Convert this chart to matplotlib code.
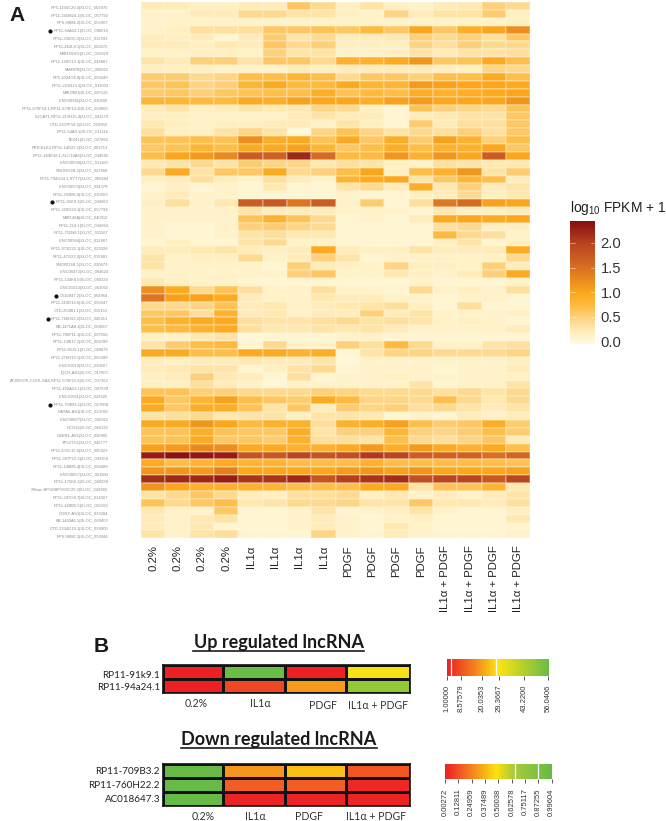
import matplotlib
matplotlib.use("Agg")
import matplotlib.pyplot as plt
import numpy as np
from matplotlib.colors import LinearSegmentedColormap, Normalize
from matplotlib.lines import Line2D

W, H = 666, 821
plt.rcParams['font.family'] = ['Liberation Sans', 'DejaVu Sans']
plt.rcParams['mathtext.fontset'] = 'custom'
plt.rcParams['mathtext.rm'] = 'Liberation Sans'
plt.rcParams['mathtext.default'] = 'rm'

gene_labels = [
"RP5-1156C20.4|XLOC_003970","RP11-245M24.1|XLOC_057792","RP6-99M1.2|XLOC_052967","RP11-94A24.1|XLOC_040519",
"RP11-230G5.2|XLOC_012393","RP11-462L8.1|XLOC_003372","MIR155HG|XLOC_031929","RP11-150O12.1|XLOC_046887",
"FAM87B|XLOC_000022","RP5-1024G6.8|XLOC_003349","RP11-221N13.3|XLOC_011003","MIR29B1|XLOC_087126",
"LINC00941|XLOC_010600","RP11-679F14.1,RP11-679F14.2|XLOC_024000","LUCAT1,RP11-213H15.4|XLOC_041179",
"CTD-2207P18.2|XLOC_010956","RP11-54A9.1|XLOC_011116","TEX41|XLOC_027866","PRICKLE2,RP11-14D22.2|XLOC_003713",
"RP11-469E18.1,SLC39A6|XLOC_034585","LINC00936|XLOC_011160","SNORD3B-2|XLOC_021968","RP11-794G24.1,SYT7|XLOC_005484",
"LINC00973|XLOC_034379","RP11-203M5.8|XLOC_010263","RP11-91K9.1|XLOC_034963","RP11-320G24.1|XLOC_057794",
"MIR146A|XLOC_040312","RP11-2L8.1|XLOC_034964","RP11-752N8.1|XLOC_011167","LINC00944|XLOC_012967",
"RP11-973D20.1|XLOC_023328","RP11-47G22.2|XLOC_015981","SNORD3B-1|XLOC_020679","LINC00473|XLOC_064624",
"RP11-143K6.5|XLOC_040324","LINC01013|XLOC_063002","C010947.2|XLOC_064964","RP11-219D15.6|XLOC_055047",
"CTD-2538I1.1|XLOC_015153","RP11-760H22.2|XLOC_046313","KB-1471A8.1|XLOC_069507","RP11-785F11.1|XLOC_007566",
"RP11-138I17.1|XLOC_008789","RP11-86J3.1|XLOC_060875","RP11-276H19.1|XLOC_050289","LINC01019|XLOC_039207",
"IQCH-AS1|XLOC_017600","AC005076.2,GOLGA6,RP11-576F21.6|XLOC_007362","RP11-420A23.1|XLOC_007539",
"LINC01021|XLOC_039325","RP11-709B3.2|XLOC_017808","GATA6-AS1|XLOC_023768","LINC00607|XLOC_030322",
"HCG11|XLOC_042130","DSER1-AS1|XLOC_030965","TP53TG1|XLOC_046777","RP11-672C15.6|XLOC_005923",
"RP11-397F15.2|XLOC_043159","RP11-148M5.4|XLOC_056489","LINC00657|XLOC_051843","RP11-175K6.1|XLOC_040294",
"XXbac-BPG6BPG55C20.2|XLOC_043965","RP11-397O8.7|XLOC_014367","RP11-420B5.5|XLOC_001365","GDNF-AS1|XLOC_033384",
"KB-1460A1.5|XLOC_069400","CTD-2334D19.1|XLOC_039905","RP6-99M1.2|XLOC_053944"]
marked_genes = [3, 25, 37, 40, 51]

conditions = ["0.2%"]*4 + ["IL1α"]*4 + ["PDGF"]*4 + ["IL1α + PDGF"]*4

heat_values = [
[.2,.2,.15,.15,.2,.2,.6,.4,.15,.3,.15,.1,.2,.25,.5,.4],
[.1,.1,.2,.2,.4,.4,.3,.3,.15,.1,.45,.2,.3,.3,.55,.15],
[.1,.1,.1,.1,.1,.1,.1,.1,.1,.1,.1,.1,.1,.1,.1,.15],
[.1,.15,.35,.35,.35,.6,.6,.65,.6,.75,.6,1.0,.6,.9,1.0,1.2],
[.2,.15,.2,.05,.2,.55,.3,.4,.2,.2,.25,.5,.4,.5,.35,.6],
[.2,.2,.15,.25,.2,.6,.4,.5,.15,.15,.15,.45,.35,.5,.4,.4],
[.1,.1,.15,.15,.1,.5,.3,.3,.1,.1,.15,.3,.2,.3,.3,.35],
[.3,.2,.5,.5,.3,.6,.6,.4,.85,.85,.95,1.15,.6,.65,.95,.7],
[.15,.15,.15,.1,.1,.1,.2,.15,.2,.2,.2,.2,.15,.15,.45,.4],
[.55,.55,.4,.45,.7,.7,.8,.7,.4,.6,.6,.5,.7,.7,.95,.7],
[.6,.65,.45,.5,.8,.95,.75,.75,.95,.8,.8,1.1,1.05,1.0,1.0,.95],
[.55,.6,.5,.6,.65,.7,.7,.9,.65,.75,.7,.9,.85,.9,.95,1.0],
[.8,.8,.75,.75,.95,.9,1.05,1.0,1.0,.9,1.05,1.1,1.0,1.0,1.0,1.15],
[.2,.3,.15,.2,.3,.25,.25,.45,.4,.15,.05,.65,.5,.45,.4,.65],
[.15,.15,.1,.1,.1,.1,.2,.3,.2,.2,.05,.2,.25,.3,.3,.6],
[.25,.15,.1,.15,.15,.2,.2,.1,.3,.15,.05,.55,.2,.35,.35,.6],
[.35,.15,.15,.3,.45,.3,.02,.45,.65,.45,.3,.4,.35,.5,.35,.6],
[.65,.65,.7,.65,1.2,.9,.95,.65,.95,.6,.9,.55,1.05,.85,.5,.7],
[.6,.65,.8,.7,.95,.95,1.05,.8,.6,.7,.9,.7,.85,.85,1.0,.6],
[.7,1.0,1.1,1.25,1.7,1.65,2.2,1.55,.75,.75,1.15,.85,1.15,1.0,1.7,1.0],
[.25,.3,.4,.3,.55,.45,.45,.25,.35,.3,.15,.1,.35,.3,.25,.25],
[.4,.95,.3,.6,.6,.95,.4,.5,.7,1.0,.15,.7,.85,1.15,.3,.55],
[.15,.2,.35,.2,.1,.35,.2,.1,.8,.95,1.0,.3,.6,.8,.7,.2],
[.05,.15,.05,.1,.05,.25,.05,.05,.3,.4,.2,.9,.25,.5,.2,.3],
[.1,.2,.1,.1,.05,.05,.05,.05,.1,.05,.05,.15,.2,.4,.15,.25],
[.15,.35,.1,.25,1.7,1.75,1.45,1.7,.1,.55,.05,.35,1.4,1.55,1.05,1.0],
[.1,.1,.1,.1,.3,.2,.2,.2,.1,.1,.1,.05,.25,.15,.15,.2],
[.1,.1,.1,.1,.65,.85,.65,.4,.05,.1,.05,.2,.95,1.0,.95,1.0],
[.1,.05,.05,.1,.5,.55,.45,.4,.05,.05,.05,.05,.35,.4,.15,.15],
[.1,.05,.05,.1,.3,.35,.25,.25,.05,.05,.05,.05,.75,.4,.35,.1],
[.05,.15,.05,.05,.3,.4,.1,.1,.05,.05,.05,.05,.15,.3,.05,.15],
[.2,.2,.25,.3,.2,.15,.2,.95,.2,.15,.15,.3,.2,.2,.2,.95],
[.3,.1,.15,.15,.4,.1,.2,.5,.3,.05,.1,.1,.1,.1,.15,.4],
[.3,.1,.1,.1,.1,.05,.5,.2,.15,.1,.45,.15,.15,.1,.5,.2],
[.1,.1,.1,.1,.1,.1,.5,.6,.1,.1,.25,.15,.1,.2,.5,.95],
[.25,.15,.1,.1,.05,.05,.05,.05,.05,.05,.05,.1,.05,.05,.05,.1],
[1.2,.95,.4,.65,.35,.1,.1,.35,.1,.1,.05,.4,.1,.15,.1,.35],
[1.45,1.05,1.05,.95,.2,.1,.1,.25,.2,.2,.1,.1,.05,.1,.1,.05],
[.4,.4,.45,.65,.2,.25,.1,.2,.25,.3,.35,.15,.05,.35,.05,.05],
[.6,.6,.35,.85,.2,.25,.1,.2,.2,.5,.2,.3,.1,.1,.1,.15],
[.7,.85,.95,.95,.35,.3,.3,.35,.4,.3,.35,.3,.1,.15,.1,.05],
[.7,.75,.85,.95,.35,.25,.25,.3,.25,.3,.2,.1,.1,.1,.1,.2],
[.15,.1,.25,.3,.02,.05,.05,.05,.1,.1,.05,.05,.05,.05,.05,.05],
[.3,.55,.7,.75,.05,.4,.1,.1,.5,.35,.75,.4,.1,.1,.3,.35],
[.95,.95,.7,.7,.95,.95,.85,.9,.05,.3,.45,.45,.4,.4,.4,.45],
[.2,.15,.2,.2,.25,.2,.2,.3,.02,.1,.1,.1,.1,.1,.1,.15],
[.2,.25,.3,.3,.05,.15,.3,.4,.05,.1,.1,.1,.05,.1,.1,.2],
[.15,.2,.5,.25,.2,.05,.35,.05,.1,.1,.15,.1,.1,.1,.1,.15],
[.15,.15,.35,.2,.1,.02,.1,.1,.1,.1,.1,.3,.05,.1,.1,.3],
[.65,.65,.5,.5,.4,.4,.4,.5,.45,.4,.4,.4,.35,.4,.3,.4],
[.95,.6,.8,1.05,.7,.6,.55,.95,.75,.45,.45,.4,.7,.4,.25,.4],
[.95,.6,.9,.9,.65,.3,.6,.2,.55,.45,.5,.35,.4,.3,.2,.3],
[.3,.35,.4,.25,.3,.3,.15,.3,.3,.25,.05,.1,.05,.2,.1,.2],
[.95,.95,1.15,1.0,.75,.85,.85,.35,.85,.9,1.05,.7,.55,.6,.9,.55],
[.65,.65,.9,.65,.6,.6,.9,.3,.5,.5,.8,.5,.45,.55,.7,.55],
[.65,.65,.95,.6,.6,.55,.85,.35,.35,.3,.7,.4,.35,.45,.6,.2],
[1.05,1.1,1.25,1.2,.95,.95,.85,.85,.95,1.1,.9,1.1,.95,.85,.95,.7],
[2.3,2.4,2.35,2.3,1.8,1.75,1.95,1.8,1.85,2.05,1.95,1.7,1.65,1.65,1.5,1.6],
[.95,.7,.8,.95,.8,.8,.7,.7,.7,.85,.7,.7,.7,.7,.7,.65],
[1.15,1.15,1.1,1.35,1.0,1.0,1.0,1.0,1.1,1.15,1.05,1.15,1.0,1.0,1.0,1.05],
[2.15,2.2,2.2,2.3,2.1,2.1,2.2,1.8,2.0,2.1,2.15,1.85,1.95,1.95,1.75,1.95],
[1.15,1.0,.85,.85,.85,.8,.7,.7,.7,.95,.95,.3,.65,.65,.8,.25],
[.3,.4,.6,.4,.2,.15,.35,.35,.4,.15,.25,.1,.2,.1,.2,.3],
[.65,.4,.6,.7,.25,.3,.4,.4,.45,.3,.3,.6,.25,.25,.2,.35],
[.25,.1,.1,.6,.05,.05,.1,.3,.05,.1,.15,.3,.1,.05,.05,.15],
[.2,.1,.25,.3,.05,.05,.1,.2,.1,.05,.1,.15,.05,.05,.05,.25],
[.2,.1,.25,.05,.05,.05,.1,.2,.1,.05,.25,.1,.05,.05,.05,.05],
[.3,.1,.3,.35,.05,.05,.05,.45,.1,.05,.2,.1,.05,.05,.05,.1],
]
legend_ticks = [0.0, 0.5, 1.0, 1.5, 2.0]

up_genes = ["RP11-91k9.1", "RP11-94a24.1"]
up_values = [[1.0, 56.0, 1.0, 30.0], [1.0, 7.0, 19.0, 48.0]]
down_genes = ["RP11-709B3.2", "RP11-760H22.2", "AC018647.3"]
down_values = [[.996, .30, .40, .14], [.996, .16, .16, .02], [.996, .01, .01, .01]]
b_conditions = ["0.2%", "IL1α", "PDGF", "IL1α + PDGF"]
up_ticks = [1.00000, 8.57579, 20.0353, 29.3667, 43.2200, 56.0406]
up_tick_text = ["1.00000", "8.57579", "20.0353", "29.3667", "43.2200", "56.0406"]
down_ticks = [0.00272, 0.12811, 0.24959, 0.37489, 0.50038, 0.62578, 0.75117, 0.87255, 0.99604]
down_tick_text = ["0.00272", "0.12811", "0.24959", "0.37489", "0.50038", "0.62578", "0.75117", "0.87255", "0.99604"]
up_white = [3.2, 27.9]
down_white = [0.655, 0.87]

fig = plt.figure(figsize=(W/100, H/100), dpi=100)

def axpx(x0, y0, x1, y1):
    return fig.add_axes([x0/W, 1-y1/H, (x1-x0)/W, (y1-y0)/H])

def tx(x, y, s, **kw):
    return fig.text(x/W, 1-y/H, s, **kw)

heat_cmap = LinearSegmentedColormap.from_list("fpkm", [
    (0.0, "#FFFBE0"), (0.27/2.5, "#FFEBB6"), (0.55/2.5, "#FED07C"), (0.8/2.5, "#FEB93C"),
    (1.05/2.5, "#FBA61C"), (1.5/2.5, "#DC7420"), (2.0/2.5, "#BA4620"), (1.0, "#850C12")])
heat_norm = Normalize(-0.05, 2.45)

# --- Panel A heatmap
ax = axpx(141, 2, 530.5, 538.3)
data = np.array(heat_values)
ax.pcolormesh(np.arange(17), np.arange(len(data)+1), data, cmap=heat_cmap, norm=heat_norm,
              edgecolors=(1, 0.97, 0.88, 0.25), linewidth=0.25)
ax.set_xlim(0, 16); ax.set_ylim(len(data), 0)
for s in ax.spines.values():
    s.set_visible(False)
ax.set_xticks(np.arange(16)+0.5)
ax.set_xticklabels(conditions, rotation=90, fontsize=8.2, color="#222222")
ax.tick_params(axis='x', length=0, pad=5)
rh = (538.3-2)/len(data)
ypos = [(7.3+i*7.78-2)/rh for i in range(len(gene_labels))]
ax.set_yticks(ypos)
ax.set_yticklabels(gene_labels, fontsize=3.0, color="#8c8c8c")
ax.tick_params(axis='y', length=0, pad=23.5)
fig.canvas.draw()
tl = ax.get_yticklabels()
for i in marked_genes:
    bb = tl[i].get_window_extent()
    dot_x = (bb.x0 - 3.5) / W
    dot_y = (bb.y0 + bb.y1) / 2 / H
    fig.add_artist(Line2D([dot_x], [dot_y], marker='o', ms=2.0, color="#111111", lw=0))
tx(9, 21, "A", fontsize=15, fontweight='bold', color="#1a1a1a", family="Liberation Sans")
tx(94, 652, "B", fontsize=15, fontweight='bold', color="#1a1a1a", family="Liberation Sans")

# --- legend
cax = axpx(570, 220.7, 595, 344)
grad = np.linspace(-0.05, 2.45, 256)[::-1].reshape(-1, 1)
cax.imshow(grad, aspect='auto', cmap=heat_cmap, norm=heat_norm, extent=[0, 1, -0.05, 2.45])
for s in cax.spines.values():
    s.set_visible(False)
cax.set_xticks([])
cax.yaxis.tick_right()
cax.set_yticks(legend_ticks)
cax.set_yticklabels([f"{v:.1f}" for v in legend_ticks], fontsize=10.6, color="#333333")
cax.tick_params(axis='y', length=0, pad=4)
for v in legend_ticks:
    cax.plot([0, .18], [v, v], color="white", lw=0.5, alpha=.6)
    cax.plot([.82, 1], [v, v], color="white", lw=0.5, alpha=.6)
cax.set_xlim(0, 1); cax.set_ylim(-0.05, 2.45)
tx(570, 212, r"log$_{10}$ FPKM + 1", fontsize=9.9, color="#222222")

# --- Panel B
up_cmap = LinearSegmentedColormap.from_list("up", [(0, "#ED2024"), (0.25, "#F47A20"), (0.5, "#FFE312"), (1, "#6ABD45")])
down_cmap = LinearSegmentedColormap.from_list("down", [(0, "#ED2024"), (0.25, "#F58220"), (0.48, "#FFE010"), (0.64, "#A9CB3B"), (1, "#66BB46")])
up_norm = Normalize(1.0, 56.0406)
down_norm = Normalize(0.00272, 0.99604)
edges = [0, 60, 122, 182.5, 247]

def strip(y0, y1, vals, cmap, norm, genes, label_ys, cond_xy, title, title_y, uy):
    a = axpx(163, y0, 410, y1)
    a.pcolormesh(edges, np.arange(len(vals)+1), np.array(vals), cmap=cmap, norm=norm,
                 edgecolors="#111111", linewidth=0.9)
    a.set_ylim(len(vals), 0); a.set_xlim(0, 247)
    a.set_xticks([]); a.set_yticks([])
    for s in a.spines.values():
        s.set_linewidth(1.2); s.set_color("#111111")
    for g, yy in zip(genes, label_ys):
        tx(160, yy, g, fontsize=7.1, ha='right', va='center', family="Lato", color="#222222")
    for c, (xx, yy) in zip(b_conditions, cond_xy):
        tx(xx, yy, c, fontsize=7.6, ha='center', va='center', family="Lato", color="#333333")
    t = tx(278.5 if title.startswith("Up") else 279, title_y, title, fontsize=13, fontweight='bold',
           ha='center', va='center', family="Lato", color="#1a1a1a")
    fig.canvas.draw()
    bb = t.get_window_extent()
    fig.add_artist(Line2D([bb.x0/W, bb.x1/W], [1-uy/H, 1-uy/H], color="#1a1a1a", lw=1.2))

strip(665, 693, up_values, up_cmap, up_norm, up_genes, [675, 688],
      [(196, 703), (260, 703), (322.7, 705), (378, 705)], "Up regulated lncRNA", 642, 650.7)
strip(764, 806, down_values, down_cmap, down_norm, down_genes, [771.7, 785, 799],
      [(202.7, 816), (255, 816), (309, 816), (376, 816)], "Down regulated lncRNA", 739.5, 748)

def scale_bar(x0, y0, x1, y1, vmin, vmax, cmap, ticks, texts, whites):
    a = axpx(x0, y0, x1, y1)
    g = np.linspace(vmin, vmax, 300).reshape(1, -1)
    a.imshow(g, aspect='auto', cmap=cmap, vmin=vmin, vmax=vmax, extent=[vmin, vmax, 0, 1])
    for w in whites:
        a.axvline(w, color="white", lw=0.9)
    for s in a.spines.values():
        s.set_visible(False)
    a.set_yticks([])
    a.set_xticks(ticks)
    a.set_xticklabels(texts, rotation=90, fontsize=5.5, color="#333333")
    a.tick_params(axis='x', length=3.0, width=0.7, color="#555555", pad=3.5)

scale_bar(446.7, 659, 548, 675.7, 1.0, 56.0406, up_cmap, up_ticks, up_tick_text, up_white)
scale_bar(445, 764, 551.7, 779.3, 0.00272, 0.99604, down_cmap, down_ticks, down_tick_text, down_white)

fig.savefig("out.png", dpi=100)
